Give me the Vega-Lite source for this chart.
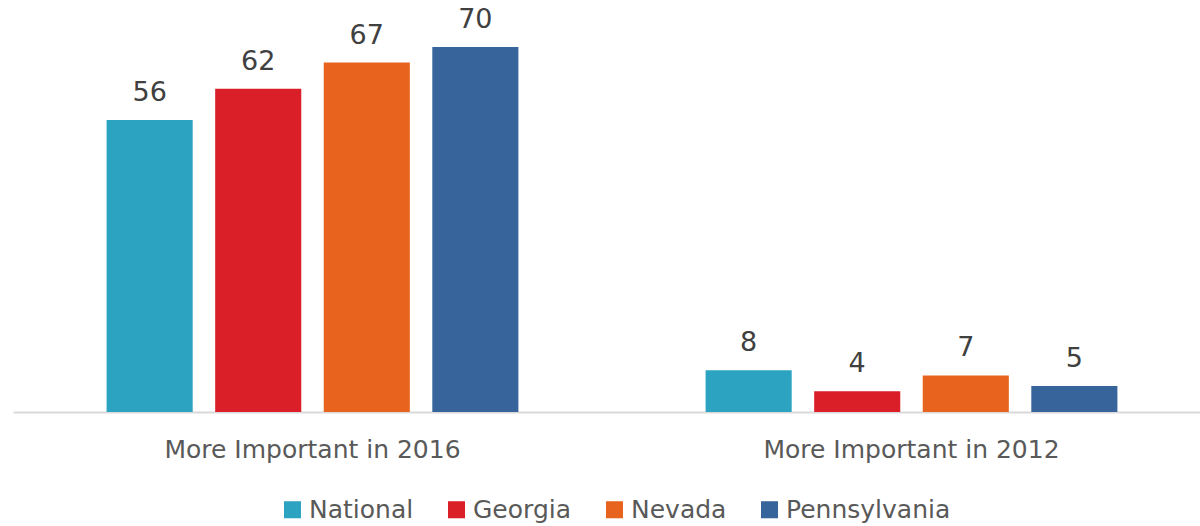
{
  "$schema": "https://vega.github.io/schema/vega-lite/v6.json",
  "autosize": "none",
  "width": 1198,
  "height": 412,
  "padding": {"left": 13, "top": 0, "right": 0, "bottom": 114},
  "background": "white",
  "data": {
    "values": [
      {"group": "More Important in 2016", "series": "National", "value": 56},
      {"group": "More Important in 2016", "series": "Georgia", "value": 62},
      {"group": "More Important in 2016", "series": "Nevada", "value": 67},
      {"group": "More Important in 2016", "series": "Pennsylvania", "value": 70},
      {"group": "More Important in 2012", "series": "National", "value": 8},
      {"group": "More Important in 2012", "series": "Georgia", "value": 4},
      {"group": "More Important in 2012", "series": "Nevada", "value": 7},
      {"group": "More Important in 2012", "series": "Pennsylvania", "value": 5}
    ]
  },
  "encoding": {
    "x": {
      "field": "group", "type": "nominal",
      "sort": ["More Important in 2016", "More Important in 2012"],
      "scale": {"paddingInner": 0.275, "paddingOuter": 0.1375},
      "axis": {
        "title": null, "labelAngle": 0, "ticks": false, "labelLimit": 0,
        "domainColor": "#d9d9d9", "domainWidth": 2,
        "labelFont": "DejaVu Sans", "labelFontSize": 25, "labelColor": "#595959",
        "labelPadding": 25
      }
    },
    "xOffset": {
      "field": "series", "type": "nominal",
      "sort": ["National", "Georgia", "Nevada", "Pennsylvania"],
      "scale": {"paddingInner": 0.207, "paddingOuter": 0.1035}
    },
    "y": {
      "field": "value", "type": "quantitative",
      "scale": {"domain": [0, 79]},
      "axis": null
    }
  },
  "layer": [
    {
      "mark": {"type": "bar"},
      "encoding": {
        "color": {
          "field": "series", "type": "nominal",
          "sort": ["National", "Georgia", "Nevada", "Pennsylvania"],
          "scale": {
            "domain": ["National", "Georgia", "Nevada", "Pennsylvania"],
            "range": ["#2CA3C0", "#DA1F28", "#E8641E", "#38649C"]
          },
          "legend": {
            "title": null, "orient": "none", "direction": "horizontal",
            "legendX": 267, "legendY": 497,
            "symbolType": "square", "symbolSize": 290, "symbolStrokeWidth": 0,
            "labelFont": "DejaVu Sans", "labelFontSize": 25, "labelColor": "#595959",
            "labelLimit": 0, "columnPadding": 30, "labelOffset": 4
          }
        }
      }
    },
    {
      "mark": {"type": "text", "baseline": "bottom", "dy": -13, "font": "DejaVu Sans", "fontSize": 27, "color": "#404040"},
      "encoding": {"text": {"field": "value", "type": "quantitative"}}
    }
  ],
  "config": {"view": {"stroke": null}}
}
